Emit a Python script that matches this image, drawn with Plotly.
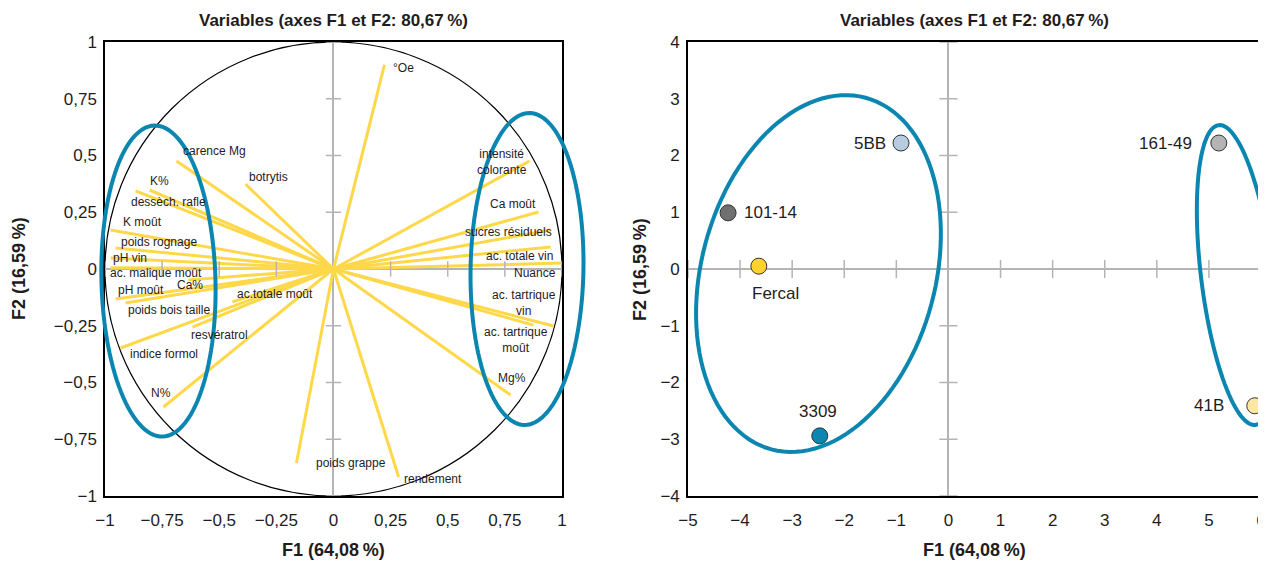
import plotly.graph_objects as go

# ---------------- DATA ----------------
# Left chart: variable loadings on F1 / F2
var_names = ["°Oe", "carence Mg", "botrytis", "K%", "dessèch. rafle", "K moût",
             "poids rognage", "pH vin", "ac. malique moût", "pH moût", "Ca%",
             "ac.totale moût", "poids bois taille", "resvératrol", "indice formol",
             "N%", "poids grappe", "rendement", "intensité<br>colorante", "Ca moût",
             "sucres résiduels", "ac. totale vin", "Nuance", "ac. tartrique<br>vin",
             "ac. tartrique<br>moût", "Mg%"]
var_f1 = [0.223, -0.687, -0.385, -0.805, -0.866, -0.976, -0.954, -0.976, -0.976,
          -0.954, -0.635, -0.442, -0.910, -0.617, -0.932, -0.744, -0.162, 0.285,
          0.858, 0.897, 0.950, 0.950, 1.000, 0.963, 0.875, 0.775]
var_f2 = [0.899, 0.476, 0.374, 0.348, 0.344, 0.172, 0.093, 0.048, 0.005, -0.132,
          -0.048, -0.145, -0.150, -0.256, -0.348, -0.608, -0.855, -0.916, 0.476,
          0.251, 0.172, 0.097, 0.026, -0.251, -0.247, -0.555]

# Right chart: rootstock scores on F1 / F2
obs_names = ["101-14", "Fercal", "5BB", "3309", "161-49", "41B"]
obs_f1 = [-4.23, -3.64, -0.91, -2.47, 5.19, 5.88]
obs_f2 = [0.99, 0.05, 2.22, -2.94, 2.22, -2.41]

# Tick values / labels
left_ticks = [-1, -0.75, -0.5, -0.25, 0, 0.25, 0.5, 0.75, 1]
left_ticklabels = ["−1", "−0,75", "−0,5", "−0,25", "0", "0,25", "0,5", "0,75", "1"]
right_xticks = [-5, -4, -3, -2, -1, 0, 1, 2, 3, 4, 5, 6]
right_xticklabels = ["−5", "−4", "−3", "−2", "−1", "0", "1", "2", "3", "4", "5", "6"]
right_yticks = [-4, -3, -2, -1, 0, 1, 2, 3, 4]
right_yticklabels = ["−4", "−3", "−2", "−1", "0", "1", "2", "3", "4"]

# Highlight ellipses (centre, half major-axis vector, half minor-axis vector), data units
left_ellipses = [((-0.766, -0.053), (-0.0178, 0.685), (0.2494, 0.0065)),
                 ((0.847, 0.0), (0.0119, 0.687), (0.247, -0.0044))]
right_ellipses = [((-2.495, -0.08), (0.904, 3.098), (2.169, -0.534)),
                  ((5.54, -0.106), (-0.353, 2.641), (0.686, 0.0775))]

# ---------------- STYLE ----------------
FONT = "Liberation Sans, Arial, sans-serif"
TXT = "#1f1c1d"
YELLOW = "#FFD84A"
BLUE = "#0A86B0"
GREY = "#b4b4b4"
obs_colors = ["#707070", "#FFD22E", "#B8CCE0", "#0A86B0", "#B4B4B4", "#FDE8A2"]
# label offsets (pixels) relative to points
obs_shift = [(42, 0), (17, -27), (-31, 0), (-2, 24), (-53, 0), (-46, 0)]
# label offsets (pixels) relative to arrow tips
label_shift = [(19, -3), (38, 10), (23, 7), (10, 9), (33, -11), (32, 8), (43, 6),
               (20, 0), (46, -5), (25, 9), (2, -5), (43, 8), (43, -7), (27, -8),
               (43, -6), (-2, 14), (55, 0), (34, -2), (-28, -1), (-25, 8), (-42, -2),
               (-31, -9), (-27, -10), (-30, 23), (-17, -15), (1, 17)]

LRANGE = [-1, 1]
RXRANGE = [-5, 6]
RYRANGE = [-4, 4]

fig = go.Figure()

# unit circle
fig.add_shape(type="circle", xref="x", yref="y", x0=-1, y0=-1, x1=1, y1=1,
              line=dict(color="black", width=1.2), layer="below")

# loading segments
seg_x, seg_y = [], []
for fx, fy in zip(var_f1, var_f2):
    seg_x += [0, fx, None]
    seg_y += [0, fy, None]
fig.add_trace(go.Scatter(x=seg_x, y=seg_y, mode="lines", xaxis="x", yaxis="y",
                         line=dict(color=YELLOW, width=3), hoverinfo="skip",
                         showlegend=False))

# zero-line tick marks
lt = [t for t in left_ticks if t != 0]
fig.add_trace(go.Scatter(x=lt, y=[0] * len(lt), mode="markers", xaxis="x", yaxis="y",
                         marker=dict(symbol="line-ns", size=11,
                                     line=dict(color=GREY, width=1.5)),
                         hoverinfo="skip", showlegend=False))
fig.add_trace(go.Scatter(x=[0] * len(lt), y=lt, mode="markers", xaxis="x", yaxis="y",
                         marker=dict(symbol="line-ew", size=11,
                                     line=dict(color=GREY, width=1.5)),
                         hoverinfo="skip", showlegend=False))
rxt = [t for t in right_xticks if t != 0]
ryt = [t for t in right_yticks if t != 0]
fig.add_trace(go.Scatter(x=rxt, y=[0] * len(rxt), mode="markers", xaxis="x2", yaxis="y2",
                         marker=dict(symbol="line-ns", size=13,
                                     line=dict(color=GREY, width=1.5)),
                         hoverinfo="skip", showlegend=False))
fig.add_trace(go.Scatter(x=[0] * len(ryt), y=ryt, mode="markers", xaxis="x2", yaxis="y2",
                         marker=dict(symbol="line-ew", size=13,
                                     line=dict(color=GREY, width=1.5)),
                         hoverinfo="skip", showlegend=False))

# variable labels
for name, fx, fy, (dx, dy) in zip(var_names, var_f1, var_f2, label_shift):
    fig.add_annotation(x=fx, y=fy, xref="x", yref="y", text=name, showarrow=False,
                       xshift=dx, yshift=dy, xanchor="center", yanchor="middle",
                       font=dict(family=FONT, size=12, color=TXT), align="center")

# rootstock points
fig.add_trace(go.Scatter(x=obs_f1, y=obs_f2, mode="markers", xaxis="x2", yaxis="y2",
                         marker=dict(size=16, color=obs_colors,
                                     line=dict(color="#333333", width=1)),
                         cliponaxis=False, hoverinfo="skip", showlegend=False))
for name, fx, fy, (dx, dy) in zip(obs_names, obs_f1, obs_f2, obs_shift):
    fig.add_annotation(x=fx, y=fy, xref="x2", yref="y2", text=name, showarrow=False,
                       xshift=dx, yshift=dy, xanchor="center", yanchor="middle",
                       font=dict(family=FONT, size=17, color=TXT))


def ellipse_path(center, major, minor, xr, yr, n=120):
    import math
    pts = []
    for i in range(n + 1):
        t = 2 * math.pi * i / n
        x = center[0] + math.cos(t) * major[0] + math.sin(t) * minor[0]
        y = center[1] + math.cos(t) * major[1] + math.sin(t) * minor[1]
        dx = (x - xr[0]) / (xr[1] - xr[0])
        dy = (y - yr[0]) / (yr[1] - yr[0])
        pts.append(f"{dx:.5f},{dy:.5f}")
    return "M" + " L".join(pts) + " Z"


for c, M, m in left_ellipses:
    fig.add_shape(type="path", xref="x domain", yref="y domain",
                  path=ellipse_path(c, M, m, LRANGE, LRANGE),
                  line=dict(color=BLUE, width=4))
for c, M, m in right_ellipses:
    fig.add_shape(type="path", xref="x2 domain", yref="y2 domain",
                  path=ellipse_path(c, M, m, RXRANGE, RYRANGE),
                  line=dict(color=BLUE, width=4))

# subplot titles and axis titles
title = "Variables (axes F1 et F2: 80,67\u202f%)"
xtitle = "F1 (64,08\u202f%)"
ytitle = "F2 (16,59\u202f%)"
for xa, ya, yt_shift in [("x", "y", -86), ("x2", "y2", -48)]:
    fig.add_annotation(x=0.5, y=1, xref=f"{xa} domain", yref=f"{ya} domain",
                       text=f"<b>{title}</b>", showarrow=False, yanchor="bottom",
                       yshift=10, font=dict(family=FONT, size=17, color=TXT))
    fig.add_annotation(x=0.5, y=0, xref=f"{xa} domain", yref=f"{ya} domain",
                       text=f"<b>{xtitle}</b>", showarrow=False, yanchor="middle",
                       yshift=-54, font=dict(family=FONT, size=18, color=TXT))
    fig.add_annotation(x=0, y=0.5, xref=f"{xa} domain", yref=f"{ya} domain",
                       text=f"<b>{ytitle}</b>", showarrow=False, textangle=-90,
                       xanchor="center", yanchor="middle", xshift=yt_shift,
                       font=dict(family=FONT, size=18, color=TXT))

axis_common = dict(showgrid=False, zeroline=True, zerolinecolor=GREY, zerolinewidth=2,
                   showline=True, mirror=True, linecolor="black", linewidth=1.5,
                   ticks="", automargin=False,
                   tickfont=dict(family=FONT, size=17, color=TXT))

# the page body adds an 8 px offset, so the figure is sized to fit inside the window
fig.update_layout(
    width=1258, height=555,
    margin=dict(l=97, r=5, t=34, b=67, autoexpand=False),
    paper_bgcolor="white", plot_bgcolor="white",
    showlegend=False,
    xaxis=dict(domain=[0, 0.3953], range=LRANGE, tickvals=left_ticks,
               ticktext=left_ticklabels, anchor="y", ticklabelstandoff=8,
               **axis_common),
    yaxis=dict(domain=[0, 1], range=LRANGE, tickvals=left_ticks,
               ticktext=left_ticklabels, anchor="x", ticklabelstandoff=3,
               **axis_common),
    xaxis2=dict(domain=[0.5043, 1], range=RXRANGE, tickvals=right_xticks,
                ticktext=right_xticklabels, anchor="y2", ticklabelstandoff=8,
                **axis_common),
    yaxis2=dict(domain=[0, 1], range=RYRANGE, tickvals=right_yticks,
                ticktext=right_yticklabels, anchor="x2", ticklabelstandoff=3,
                **axis_common),
)

fig.write_html("out.html")
